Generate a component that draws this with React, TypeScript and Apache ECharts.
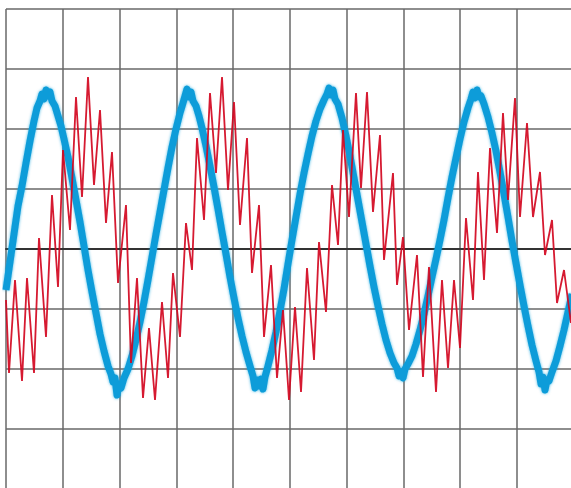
import React, { useEffect, useRef } from "react";
import * as echarts from "echarts";

// Time in samples (one division = 56.78 samples), amplitude in mV (one division = 60 mV)
const blueT = [
  0, 4, 8, 12, 16, 20, 24, 28, 31, 34, 36, 38, 40, 42, 44, 46, 49, 52, 55, 58, 62, 66, 70, 74, 78, 82, 86, 90, 94, 98,
  102, 105, 107, 109, 111, 113, 115, 118, 122, 126, 130, 134, 138, 142, 146, 150, 154, 158, 162, 166, 170, 174, 177, 179,
  181, 183, 185, 187, 190, 193, 196, 200, 204, 208, 212, 216, 220, 224, 228, 232, 236, 240, 244, 247, 249, 251, 253, 255,
  257, 259, 262, 266, 270, 274, 278, 282, 286, 290, 294, 298, 302, 306, 310, 314, 318, 321, 323, 325, 327, 329, 332, 336,
  340, 344, 348, 352, 356, 360, 364, 368, 372, 376, 380, 384, 388, 391, 393, 395, 397, 399, 402, 406, 410, 414, 418, 422,
  426, 430, 434, 438, 442, 446, 450, 454, 458, 462, 465, 467, 469, 471, 473, 475, 478, 482, 486, 490, 494, 498, 502, 506,
  510, 514, 518, 522, 526, 530, 533, 535, 537, 539, 541, 543, 546, 550, 554, 558, 562, 566,
];
const blueV = [
  -41, -13, 15, 43, 63, 86, 108, 128, 141, 148, 155, 150, 159, 153, 157, 148, 143, 133, 123, 110, 92, 71, 49, 27, 3, -21,
  -43, -64, -85, -102, -117, -125, -133, -129, -146, -135, -139, -129, -120, -107, -91, -73, -53, -31, -8, 15, 37, 59, 81,
  102, 120, 136, 146, 153, 160, 152, 157, 148, 143, 133, 121, 103, 83, 62, 40, 17, -5, -28, -49, -69, -87, -103, -117,
  -127, -139, -131, -137, -130, -140, -128, -117, -101, -83, -62, -40, -15, 9, 32, 55, 76, 95, 113, 128, 140, 149, 155,
  161, 154, 159, 150, 145, 131, 113, 93, 71, 49, 27, 5, -17, -38, -57, -75, -91, -104, -114, -119, -127, -123, -129, -120,
  -115, -107, -95, -81, -65, -47, -28, -10, 9, 29, 51, 72, 91, 110, 127, 141, 150, 157, 151, 159, 152, 153, 145, 132, 116,
  98, 77, 55, 32, 8, -14, -36, -57, -77, -96, -112, -123, -135, -128, -141, -131, -132, -123, -112, -97, -81, -63, -45,
];

const redT = [
  0, 3, 9, 16, 21, 28, 33, 40, 46, 52, 57, 64, 70, 76, 82, 88, 94, 100, 106, 112, 120, 125, 131, 137, 143, 149, 156, 162,
  167, 174, 180, 186, 191, 198, 204, 210, 216, 222, 228, 234, 241, 246, 253, 258, 265, 271, 277, 283, 289, 295, 301, 308,
  313, 320, 326, 332, 337, 343, 350, 355, 361, 367, 374, 378, 387, 391, 397, 403, 411, 417, 423, 430, 436, 442, 448, 454,
  460, 467, 472, 478, 484, 491, 497, 502, 509, 514, 521, 527, 534, 539, 546, 551, 558, 565,
];
const redV = [
  -51, -124, -31, -132, -29, -124, 11, -88, 54, -38, 99, 19, 152, 52, 172, 64, 139, 26, 97, -34, 44, -114, -29, -149, -79,
  -151, -53, -129, -24, -88, 26, -21, 111, 29, 156, 76, 172, 59, 147, 24, 111, -24, 44, -88, -16, -129, -61, -151, -58,
  -143, -19, -111, 7, -63, 64, 4, 119, 32, 156, 61, 157, 37, 114, -11, 76, -36, 12, -81, -6, -128, -18, -143, -31, -119,
  -31, -99, 31, -51, 77, -31, 101, 16, 136, 49, 151, 32, 126, 32, 77, -6, 29, -54, -21, -74,
];

const X_MAX = 567.8;
const X_DIV = 56.78;
const Y_MIN = -240;
const Y_MAX = 240;
const Y_DIV = 60;

export default function App() {
  const ref = useRef<HTMLDivElement>(null);
  useEffect(() => {
    if (!ref.current) return;
    const chart = echarts.init(ref.current, null, { renderer: "svg" });
    const gridLine = { color: "#686868", width: 1.5 };
    chart.setOption({
      animation: false,
      backgroundColor: "#ffffff",
      grid: { left: 6, top: 9, width: X_MAX, height: 480 },
      xAxis: {
        type: "value",
        min: 0,
        max: X_MAX,
        interval: X_DIV,
        axisLabel: { show: false },
        axisTick: { show: false },
        axisLine: { show: true, onZero: true, lineStyle: { color: "#333333", width: 2 } },
        splitLine: { show: true, lineStyle: gridLine },
      },
      yAxis: {
        type: "value",
        min: Y_MIN,
        max: Y_MAX,
        interval: Y_DIV,
        axisLabel: { show: false },
        axisTick: { show: false },
        axisLine: { show: false },
        splitLine: { show: true, lineStyle: gridLine },
      },
      series: [
        {
          name: "CH1",
          type: "line",
          data: blueT.map((t, i) => [t, blueV[i]]),
          showSymbol: false,
          silent: true,
          z: 2,
          lineStyle: {
            color: "#0b9cd9",
            width: 7,
            join: "round",
            shadowBlur: 3,
            shadowColor: "rgba(11,156,217,0.7)",
          },
        },
        {
          name: "CH2",
          type: "line",
          data: redT.map((t, i) => [t, redV[i]]),
          showSymbol: false,
          silent: true,
          z: 3,
          lineStyle: { color: "#d3071f", width: 1.8, opacity: 0.92 },
        },
      ],
    });
    return () => chart.dispose();
  }, []);
  return (
    <div style={{ position: "fixed", left: 0, top: 0, width: 571, height: 488, overflow: "hidden", background: "#fff" }}>
      <div ref={ref} style={{ width: 580, height: 496 }} />
    </div>
  );
}
